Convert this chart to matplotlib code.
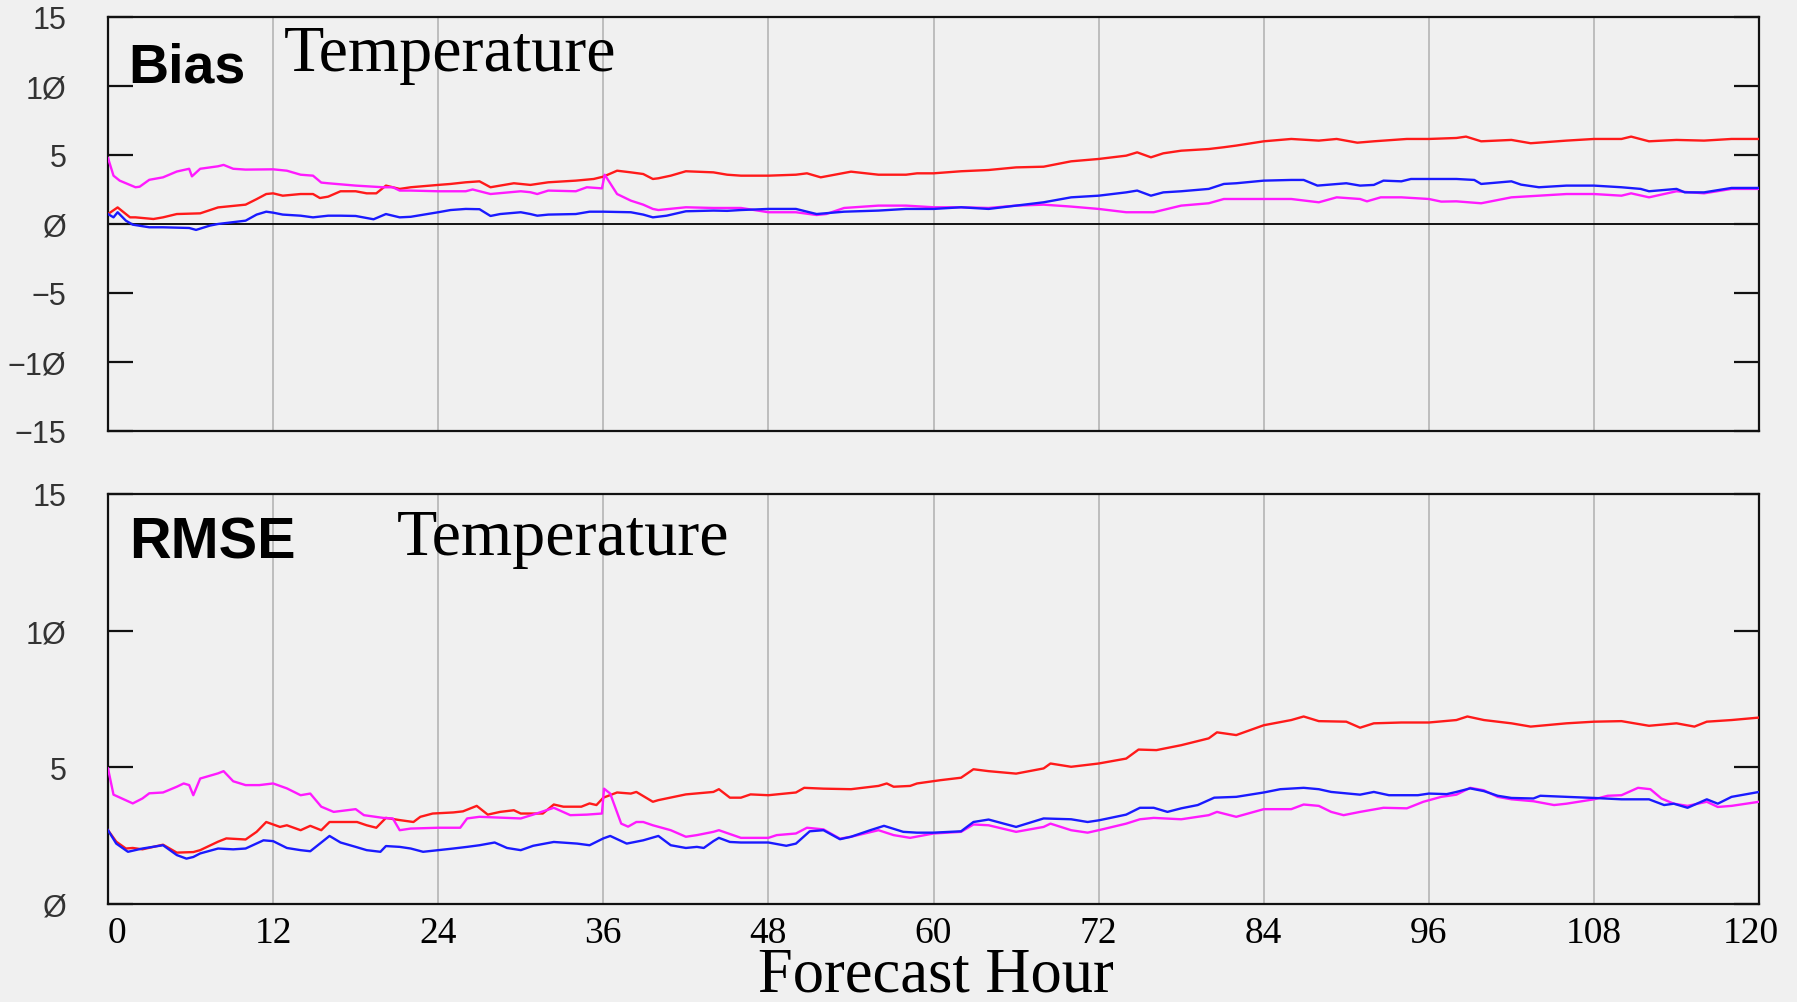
import matplotlib
matplotlib.use("Agg")
import matplotlib.pyplot as plt
from matplotlib.transforms import ScaledTranslation

# ---------------- data ----------------
hours_ticks = [0, 12, 24, 36, 48, 60, 72, 84, 96, 108, 120]
bias_yticks = [-15, -10, -5, 0, 5, 10, 15]
bias_yticklabels = ["\u221215", "\u22121\u00d8", "\u22125", "\u00d8", "5", "1\u00d8", "15"]
rmse_yticks = [0, 5, 10, 15]
rmse_yticklabels = ["\u00d8", "5", "1\u00d8", "15"]

bias_red_h = [0.0, 0.7, 1.6, 2.0, 3.3, 4.0, 5.0, 6.7, 8.0, 10.0, 10.8, 11.5, 12.0, 12.7, 14.0, 14.9, 15.4, 16.0, 16.9, 18.0, 18.8, 19.5, 20.2, 21.2, 22.0, 24.0, 24.9, 26.0, 27.0, 27.8, 28.5, 29.5, 30.0, 30.7,
              32.0, 34.0, 35.3, 36.0, 37.0, 38.0, 38.9, 39.6, 40.0, 40.9, 42.0, 44.0, 45.0, 46.0, 48.0, 50.0, 50.8, 51.8, 54.0, 56.0, 58.0, 58.8, 60.0,
              62.0, 64.0, 66.0, 68.0, 70.0, 72.0, 74.0, 74.8, 75.8, 76.7, 78.0, 80.0, 81.1, 82.0, 84.0, 86.0, 88.0, 89.3, 90.8,
              92.0, 94.4, 96.0, 98.0, 98.7, 99.8, 102.0, 103.4, 106.0, 108.0, 110.0, 110.7, 112.0, 114.0, 116.0, 118.0, 120.0]
bias_red_v = [0.72, 1.2, 0.48, 0.48, 0.36, 0.48, 0.72, 0.77, 1.2, 1.4, 1.8, 2.17, 2.22, 2.05, 2.17, 2.17, 1.88, 1.98, 2.37, 2.37, 2.22, 2.22, 2.78, 2.54, 2.66, 2.83, 2.9, 3.02, 3.09, 2.66, 2.78, 2.95, 2.9, 2.83,
              3.02, 3.14, 3.26, 3.43, 3.86, 3.74, 3.62, 3.26, 3.31, 3.5, 3.82, 3.74, 3.57, 3.5, 3.5, 3.57, 3.67, 3.38, 3.79, 3.57, 3.57, 3.67, 3.67,
              3.82, 3.91, 4.1, 4.15, 4.54, 4.71, 4.95, 5.19, 4.83, 5.12, 5.31, 5.43, 5.56, 5.68, 5.99, 6.16, 6.04, 6.16, 5.89,
              5.99, 6.16, 6.16, 6.23, 6.33, 5.99, 6.09, 5.85, 6.04, 6.16, 6.16, 6.33, 5.99, 6.09, 6.04, 6.16, 6.16]

bias_mag_h = [0.0, 0.4, 0.85, 2.0, 2.3, 3.0, 4.0, 5.0, 5.9, 6.1, 6.7, 8.0, 8.4, 9.1, 10.0, 12.0, 13.0, 14.0, 14.9, 15.5, 16.0, 18.0, 20.0, 20.7, 21.2, 22.0, 24.0, 26.0, 26.5, 27.8, 30.0, 30.7,
              31.2, 32.0, 34.0, 34.8, 35.9, 36.1, 37.0, 38.0, 38.9, 39.6, 40.0, 42.0, 44.0, 46.0, 48.0, 50.0, 51.5, 52.2, 53.5, 56.0, 58.0, 60.0,
              62.0, 64.0, 66.0, 68.0, 70.0, 72.0, 74.0, 76.0, 78.0, 80.0, 81.1, 82.0, 84.0, 86.0, 88.0, 89.3, 91.0,
              91.5, 92.5, 94.0, 96.0, 96.9, 98.0, 99.8, 102.0, 104.0, 106.0, 108.0, 110.0, 110.7, 112.0, 114.0, 116.0, 118.0, 120.0]
bias_mag_v = [4.78, 3.5, 3.14, 2.66, 2.7, 3.2, 3.38, 3.8, 4.0, 3.45, 4.0, 4.18, 4.28, 4.0, 3.94, 3.96, 3.86, 3.57, 3.5, 3.0, 2.95, 2.78, 2.66, 2.66, 2.42, 2.42, 2.37, 2.37, 2.5, 2.17, 2.37, 2.3,
              2.17, 2.42, 2.37, 2.66, 2.58, 3.57, 2.17, 1.69, 1.4, 1.09, 1.01, 1.21, 1.16, 1.16, 0.85, 0.85, 0.65, 0.72, 1.16, 1.33, 1.33, 1.21,
              1.21, 1.16, 1.33, 1.4, 1.26, 1.09, 0.85, 0.85, 1.33, 1.5, 1.81, 1.81, 1.81, 1.81, 1.57, 1.93, 1.81,
              1.64, 1.93, 1.93, 1.81, 1.62, 1.64, 1.5, 1.93, 2.05, 2.17, 2.17, 2.05, 2.22, 1.93, 2.37, 2.22, 2.54, 2.54]

bias_blue_h = [0.0, 0.4, 0.7, 1.3, 1.8, 3.0, 4.0, 5.9, 6.4, 7.4, 8.0, 10.0, 10.8, 11.5, 12.0, 12.7, 14.0, 14.9, 16.0, 16.9, 18.0, 19.3, 20.2, 21.2, 22.0, 24.0, 24.9, 26.0, 27.0, 27.8, 28.5, 30.0, 30.7,
               31.2, 32.0, 34.0, 35.0, 36.0, 38.0, 38.9, 39.6, 40.6, 42.0, 44.0, 45.0, 46.0, 48.0, 50.0, 51.5, 53.5, 56.0, 58.0, 60.0,
               62.0, 64.0, 66.0, 68.0, 70.0, 72.0, 74.0, 74.8, 75.8, 76.7, 78.0, 80.0, 81.1, 82.0, 84.0, 86.0, 86.9, 87.9, 90.0, 91.0,
               92.0, 92.7, 94.0, 94.7, 96.0, 98.0, 99.3, 99.8, 102.0, 102.7, 104.0, 106.0, 108.0, 110.0, 111.4, 112.0, 114.0, 114.6, 116.0, 118.0, 120.0]
bias_blue_v = [0.72, 0.48, 0.85, 0.24, -0.05, -0.24, -0.24, -0.29, -0.43, -0.12, 0.0, 0.24, 0.68, 0.89, 0.82, 0.68, 0.6, 0.48, 0.6, 0.6, 0.58, 0.34, 0.72, 0.48, 0.52, 0.85, 1.01, 1.09, 1.07, 0.58, 0.72, 0.85, 0.72,
               0.6, 0.68, 0.72, 0.89, 0.89, 0.85, 0.68, 0.48, 0.6, 0.92, 0.97, 0.95, 1.01, 1.09, 1.09, 0.72, 0.89, 0.97, 1.09, 1.09,
               1.21, 1.09, 1.33, 1.57, 1.93, 2.05, 2.29, 2.42, 2.05, 2.29, 2.37, 2.54, 2.9, 2.95, 3.14, 3.19, 3.19, 2.78, 2.95, 2.78,
               2.83, 3.14, 3.09, 3.26, 3.26, 3.26, 3.19, 2.9, 3.09, 2.85, 2.66, 2.78, 2.78, 2.66, 2.54, 2.37, 2.54, 2.29, 2.29, 2.61, 2.61]

rmse_red_h = [0.0, 0.6, 1.3, 1.8, 2.5, 4.0, 5.0, 6.2, 6.7, 8.0, 8.6, 10.0, 10.8, 11.5, 12.5, 13.0, 14.0, 14.7, 15.5, 16.1, 17.3, 18.1, 18.8, 19.5, 20.2, 21.2, 22.2, 22.7, 23.6, 25.1, 25.8, 26.8, 27.6, 28.5, 29.5, 30.0, 30.9,
              31.6, 32.4, 33.1, 34.4, 35.0, 35.5, 36.0, 37.0, 38.0, 38.4, 39.6, 40.0, 42.0, 44.0, 44.4, 45.2, 46.0, 46.7, 48.0, 50.0, 50.6, 52.0, 54.0, 56.0, 56.6, 57.1, 58.3, 58.8, 60.5,
              62.0, 62.9, 64.0, 66.0, 68.0, 68.5, 70.0, 72.0, 74.0, 74.9, 76.2, 78.0, 80.0, 80.6, 82.0, 84.0, 86.0, 86.9, 88.0, 90.0, 91.0,
              92.0, 94.0, 96.0, 98.0, 98.8, 100.0, 102.0, 103.4, 106.0, 108.0, 110.0, 112.0, 114.0, 115.3, 116.2, 118.0, 120.0]
rmse_red_v = [2.7, 2.28, 2.03, 2.05, 2.0, 2.17, 1.88, 1.9, 1.97, 2.28, 2.4, 2.36, 2.64, 3.0, 2.82, 2.88, 2.7, 2.86, 2.7, 3.0, 3.0, 3.0, 2.88, 2.79, 3.15, 3.07, 3.0, 3.19, 3.31, 3.35, 3.39, 3.59, 3.27, 3.37, 3.43, 3.31, 3.31,
              3.31, 3.64, 3.56, 3.56, 3.68, 3.62, 3.89, 4.08, 4.04, 4.1, 3.74, 3.8, 4.01, 4.1, 4.2, 3.89, 3.89, 4.01, 3.98, 4.08, 4.25, 4.22, 4.2, 4.32, 4.41, 4.29, 4.32, 4.41, 4.53,
              4.62, 4.93, 4.86, 4.77, 4.96, 5.14, 5.02, 5.14, 5.32, 5.65, 5.63, 5.81, 6.06, 6.28, 6.18, 6.54, 6.73, 6.86, 6.69, 6.67, 6.45,
              6.61, 6.64, 6.64, 6.73, 6.86, 6.73, 6.61, 6.49, 6.61, 6.67, 6.69, 6.52, 6.61, 6.49, 6.67, 6.73, 6.82]

rmse_mag_h = [0.0, 0.4, 1.8, 2.5, 3.0, 4.0, 5.0, 5.5, 5.9, 6.2, 6.7, 8.0, 8.4, 9.1, 10.0, 11.0, 12.0, 13.0, 14.0, 14.7, 15.5, 16.4, 18.0, 18.6, 20.0, 20.7, 21.2, 22.0, 24.0, 25.6, 26.1, 27.0, 30.0, 30.9,
              32.4, 33.6, 34.8, 35.9, 36.05, 36.5, 37.3, 37.8, 38.4, 38.9, 39.6, 40.9, 42.0, 42.8, 44.0, 44.4, 46.0, 48.0, 48.6, 50.0, 50.8, 52.0, 53.2, 54.0, 56.0, 57.1, 58.3, 60.0,
              62.0, 62.9, 64.0, 66.0, 68.0, 68.5, 70.0, 71.2, 72.0, 74.0, 75.0, 76.0, 78.0, 80.0, 80.6, 82.0, 84.0, 86.0, 86.9, 88.0, 88.9, 89.8, 91.0,
              92.7, 94.4, 95.6, 96.9, 98.0, 99.0, 100.0, 101.0, 102.0, 103.6, 105.1, 106.0, 108.0, 109.0, 110.0, 111.2, 112.1, 112.9, 113.8, 114.8, 116.2, 117.0, 118.0, 120.0]
rmse_mag_v = [4.96, 4.0, 3.68, 3.86, 4.05, 4.08, 4.29, 4.41, 4.35, 3.98, 4.59, 4.78, 4.86, 4.49, 4.35, 4.35, 4.41, 4.23, 3.98, 4.04, 3.56, 3.37, 3.47, 3.25, 3.15, 3.13, 2.7, 2.76, 2.79, 2.79, 3.13, 3.19, 3.13, 3.27,
              3.52, 3.25, 3.27, 3.31, 4.22, 4.04, 2.94, 2.83, 3.0, 3.0, 2.88, 2.7, 2.46, 2.52, 2.64, 2.7, 2.42, 2.42, 2.52, 2.58, 2.79, 2.73, 2.39, 2.46, 2.7, 2.52, 2.42, 2.58,
              2.64, 2.91, 2.88, 2.64, 2.82, 2.94, 2.7, 2.61, 2.7, 2.94, 3.1, 3.15, 3.1, 3.25, 3.37, 3.19, 3.47, 3.47, 3.64, 3.59, 3.37, 3.25, 3.37,
              3.52, 3.5, 3.74, 3.92, 4.0, 4.25, 4.16, 3.92, 3.83, 3.76, 3.62, 3.67, 3.83, 3.96, 3.98, 4.25, 4.2, 3.86, 3.67, 3.59, 3.74, 3.55, 3.59, 3.74]

rmse_blue_h = [0.0, 0.6, 1.45, 2.5, 4.0, 5.0, 5.7, 6.2, 6.7, 8.0, 9.1, 10.0, 11.3, 12.0, 13.0, 14.0, 14.7, 16.1, 16.9, 18.0, 18.8, 19.8, 20.2, 21.2, 22.0, 22.9, 24.0, 25.1, 26.1, 27.0, 28.1, 29.0, 30.0, 30.9,
               32.4, 34.1, 35.0, 36.0, 36.5, 37.7, 38.9, 40.0, 40.9, 42.0, 42.8, 43.3, 44.0, 44.4, 45.2, 46.0, 48.0, 49.3, 50.0, 51.0, 52.0, 53.2, 54.0, 55.4, 56.4, 57.8, 58.8, 60.0,
               62.0, 62.9, 64.0, 66.0, 68.0, 70.0, 71.2, 72.0, 74.0, 75.0, 76.0, 77.0, 78.0, 79.2, 80.4, 82.0, 84.0, 85.2, 86.9, 88.0, 88.9, 91.0,
               92.0, 93.1, 94.0, 95.2, 96.0, 97.3, 98.0, 99.0, 100.0, 101.0, 102.0, 103.6, 104.1, 106.0, 108.0, 110.0, 112.0, 113.1, 113.8, 114.8, 116.2, 117.0, 118.0, 120.0]
rmse_blue_v = [2.7, 2.21, 1.91, 2.03, 2.15, 1.79, 1.66, 1.72, 1.85, 2.03, 2.0, 2.03, 2.33, 2.3, 2.05, 1.97, 1.93, 2.49, 2.25, 2.09, 1.97, 1.91, 2.12, 2.09, 2.03, 1.91, 1.97, 2.03, 2.09, 2.15, 2.25, 2.05, 1.97, 2.13,
               2.27, 2.21, 2.15, 2.4, 2.49, 2.21, 2.33, 2.49, 2.15, 2.05, 2.09, 2.05, 2.3, 2.42, 2.27, 2.25, 2.25, 2.13, 2.21, 2.66, 2.7, 2.37, 2.46, 2.7, 2.86, 2.64, 2.61, 2.61,
               2.66, 3.0, 3.09, 2.82, 3.13, 3.1, 3.0, 3.06, 3.27, 3.52, 3.52, 3.37, 3.5, 3.62, 3.89, 3.92, 4.08, 4.2, 4.25, 4.2, 4.1, 4.0,
               4.1, 3.98, 3.98, 3.98, 4.04, 4.02, 4.1, 4.23, 4.13, 3.96, 3.88, 3.86, 3.96, 3.92, 3.88, 3.83, 3.83, 3.62, 3.67, 3.52, 3.83, 3.67, 3.92, 4.1]

panel_names = ["Bias", "RMSE"]
variable_name = "Temperature"
xlabel_text = "Forecast Hour"

# ---------------- style ----------------
BG = "#f0f0f0"
RED = "#ff1a1a"
BLUE = "#1a1aff"
MAG = "#ff1aff"
SERIF = ["Liberation Serif", "DejaVu Serif"]
SANS = ["Liberation Sans", "DejaVu Sans"]
LW = 1.7

fig = plt.figure(figsize=(17.97, 10.03), dpi=100, facecolor=BG)
ax1 = fig.add_axes([0.0601, 0.5693, 0.9188, 0.4128], facecolor=BG)
ax2 = fig.add_axes([0.0601, 0.0977, 0.9188, 0.4088], facecolor=BG)


def style_axes(ax, yticks, ylabels, ylim):
    ax.set_xlim(0, 120)
    ax.set_ylim(*ylim)
    for sp in ax.spines.values():
        sp.set_linewidth(1.6)
        sp.set_color("#111111")
    ax.set_xticks(hours_ticks)
    ax.grid(axis="x", color="#bdbdbd", linewidth=1.4, zorder=0)
    ax.tick_params(axis="x", length=0)
    ax.set_yticks(yticks)
    ax.set_yticklabels(ylabels, fontfamily=SANS, fontsize=22, color="#333333")
    ax.tick_params(axis="y", direction="in", length=18, width=1.6, color="#111111",
                   left=True, right=True, pad=30)


style_axes(ax1, bias_yticks, bias_yticklabels, (-15, 15))
ax1.tick_params(axis="x", labelbottom=False)
ax1.axhline(0, color="#111111", linewidth=1.4, zorder=2)
ax1.plot(bias_red_h, bias_red_v, color=RED, lw=LW, zorder=3)
ax1.plot(bias_mag_h, bias_mag_v, color=MAG, lw=LW, zorder=3)
ax1.plot(bias_blue_h, bias_blue_v, color=BLUE, lw=LW, zorder=3)

style_axes(ax2, rmse_yticks, rmse_yticklabels, (0, 15))
ax2.set_xticklabels([str(h) for h in hours_ticks], fontfamily=SERIF, fontsize=27)
ax2.tick_params(axis="x", pad=8)
xlabels = ax2.get_xticklabels()
xlabels[0].set_horizontalalignment("left")
xlabels[-1].set_transform(xlabels[-1].get_transform() + ScaledTranslation(-8 / 100, 0, fig.dpi_scale_trans))
ax2.plot(rmse_red_h, rmse_red_v, color=RED, lw=LW, zorder=3)
ax2.plot(rmse_mag_h, rmse_mag_v, color=MAG, lw=LW, zorder=3)
ax2.plot(rmse_blue_h, rmse_blue_v, color=BLUE, lw=LW, zorder=3)

ax1.text(0.0121, 0.845, panel_names[0], transform=ax1.transAxes, fontfamily=SANS,
         fontweight="bold", fontsize=40, va="baseline", ha="left")
ax1.text(0.1066, 0.872, variable_name, transform=ax1.transAxes, fontfamily=SERIF,
         fontsize=47.5, va="baseline", ha="left")
ax2.text(0.013, 0.844, panel_names[1], transform=ax2.transAxes, fontfamily=SANS,
         fontweight="bold", fontsize=41.5, va="baseline", ha="left")
ax2.text(0.1747, 0.854, variable_name, transform=ax2.transAxes, fontfamily=SERIF,
         fontsize=47.5, va="baseline", ha="left")

fig.text(0.521, 0.011, xlabel_text, fontfamily=SERIF, fontsize=45, ha="center", va="baseline")

fig.savefig("out.png", dpi=100, facecolor=BG)
